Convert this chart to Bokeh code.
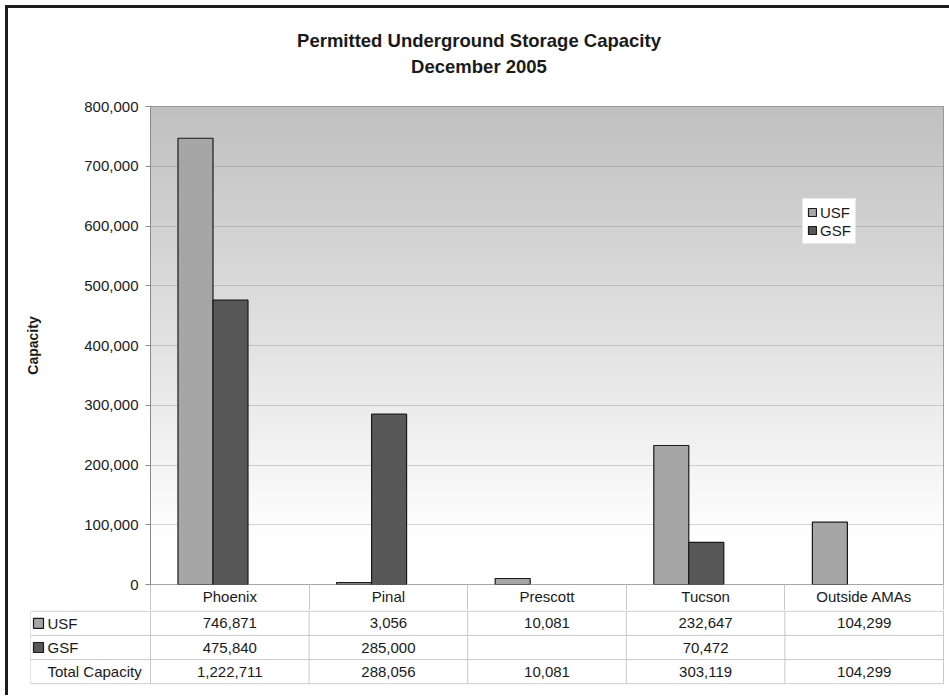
import numpy as np
from bokeh.plotting import figure
from bokeh.models import (Range1d, ColumnDataSource, NumeralTickFormatter, FixedTicker,
                          Legend, LegendItem, LinearAxis)
from bokeh.layouts import column
from bokeh.embed import file_html
from bokeh.resources import INLINE
from bokeh.core.properties import value

# ---------------- data ----------------
title_lines = ["Permitted Underground Storage Capacity", "December 2005"]
regions = ["Phoenix", "Pinal", "Prescott", "Tucson", "Outside AMAs"]
usf = [746871, 3056, 10081, 232647, 104299]
gsf = [475840, 285000, None, 70472, None]
series_names = ["USF", "GSF"]
total_label = "Total Capacity"
y_label = "Capacity"
y_ticks = [0, 100000, 200000, 300000, 400000, 500000, 600000, 700000, 800000]

# ---------------- style ----------------
FONT = "Liberation Sans"
TXT = "#1a1a1a"
USF_COLOR = "#a6a6a6"
GSF_COLOR = "#585858"
EDGE = "#1a1a1a"
TABLE_LINE = "#c8c8c8"

OFF = 8                    # css margin+border offset
W = 949 - OFF
PXU = 158.6                # pixels per category
YMAX = y_ticks[-1]
BW = 35 / PXU              # bar width in category units
X0 = -0.394                # chart range start (bars sit slightly left of table columns)
NCAT = len(regions)

idx = np.arange(NCAT)
usf_a = np.array(usf, dtype=float)
gsf_a = np.array([np.nan if v is None else v for v in gsf], dtype=float)
total_a = np.nansum(np.vstack([usf_a, gsf_a]), axis=0)


def bare(fig):
    fig.grid.visible = False
    fig.outline_line_color = None
    fig.background_fill_color = "white"
    fig.border_fill_color = "white"


def no_align(fig):
    if "frame_align" in fig.properties():
        fig.frame_align = False


# ---------------- title strip ----------------
p0 = figure(width=W, height=90, x_range=Range1d(0, 1), y_range=Range1d(0, 1),
            output_backend="svg", toolbar_location=None, tools="",
            x_axis_location=None, y_axis_location=None,
            min_border_left=0, min_border_right=0, min_border_top=0, min_border_bottom=0)
bare(p0)
no_align(p0)
p0.text(x=[0.5, 0.5], y=[0.645, 0.356], text=title_lines, text_align="center",
        text_baseline="alphabetic", text_font=value(FONT), text_font_style="bold",
        text_font_size="18.5px", text_color=TXT)

# ---------------- chart ----------------
p1 = figure(width=W, height=512, x_range=Range1d(X0, X0 + NCAT),
            y_range=Range1d(0, YMAX), output_backend="svg", toolbar_location=None,
            tools="", x_axis_location=None,
            min_border_left=142, min_border_right=6, min_border_top=8, min_border_bottom=26)
no_align(p1)
p1.background_fill_color = "white"
p1.border_fill_color = "white"
p1.outline_line_color = "#8a8a8a"
p1.outline_line_width = 1

# gradient backdrop of the plot area
n = 256
fr = (np.arange(n) + 0.5) / n
g = (255 - 63 * np.clip((fr - 0.1) / 0.9, 0, 1)).astype(np.uint8)
img = np.zeros((n, 1), dtype=np.uint32)
view = img.view(dtype=np.uint8).reshape((n, 1, 4))
view[:, 0, 0] = g
view[:, 0, 1] = g
view[:, 0, 2] = g
view[:, 0, 3] = 255
p1.image_rgba(image=[img], x=X0, y=0, dw=NCAT, dh=YMAX, level="image")

p1.xgrid.visible = False
p1.ygrid.grid_line_color = "#808080"
p1.ygrid.grid_line_alpha = 0.35
p1.ygrid.ticker = FixedTicker(ticks=y_ticks)

src = ColumnDataSource(dict(xu=idx - BW / 2, xg=idx + BW / 2, usf=usf_a, gsf=gsf_a))
r1 = p1.vbar(x="xu", top="usf", bottom=0, width=BW, source=src,
             fill_color=USF_COLOR, line_color=EDGE, line_width=1.2)
r2 = p1.vbar(x="xg", top="gsf", bottom=0, width=BW, source=src,
             fill_color=GSF_COLOR, line_color=EDGE, line_width=1.2)

ax = p1.yaxis[0]
ax.ticker = FixedTicker(ticks=y_ticks)
ax.formatter = NumeralTickFormatter(format="0,0")
ax.axis_line_color = "#8a8a8a"
ax.major_tick_line_color = "#8a8a8a"
ax.major_tick_out = 5
ax.major_tick_in = 0
ax.minor_tick_line_color = None
ax.major_label_standoff = 7
ax.major_label_text_font = FONT
ax.major_label_text_font_size = "15px"
ax.major_label_text_color = TXT
ax.axis_label = y_label
ax.axis_label_text_font = FONT
ax.axis_label_text_font_style = "bold"
ax.axis_label_text_font_size = "14px"
ax.axis_label_text_color = TXT
ax.axis_label_standoff = 40

# header row of the data table: category names on an axis aligned with the table columns
p1.extra_x_ranges = {"tbl": Range1d(-0.5, NCAT - 0.5)}
xa = LinearAxis(x_range_name="tbl",
                ticker=FixedTicker(ticks=[float(k) for k in idx],
                                   minor_ticks=[k - 0.5 for k in range(NCAT + 1)]))
xa.major_label_overrides = {float(k): name for k, name in zip(idx, regions)}
xa.axis_line_color = None
xa.major_tick_out = 0
xa.major_tick_in = 0
xa.minor_tick_out = 26
xa.minor_tick_in = 0
xa.minor_tick_line_color = TABLE_LINE
xa.major_label_standoff = -23
xa.major_label_text_font = FONT
xa.major_label_text_font_size = "15px"
xa.major_label_text_color = TXT
p1.add_layout(xa, "below")

legend = Legend(items=[LegendItem(label=series_names[0], renderers=[r1]),
                       LegendItem(label=series_names[1], renderers=[r2])],
                location=(652, 340))
legend.label_text_font = FONT
legend.label_text_font_size = "15px"
legend.label_text_color = TXT
legend.glyph_width = 10
legend.glyph_height = 10
legend.label_height = 18
legend.label_standoff = 3
legend.spacing = 0
legend.padding = 4
legend.margin = 0
legend.background_fill_color = "white"
legend.background_fill_alpha = 1
legend.border_line_color = "#d0d0d0"
p1.add_layout(legend)

# ---------------- data table rows ----------------
L = -0.5 - 120 / PXU
R = NCAT - 0.5 + 1 / PXU
p2 = figure(width=W, height=85, x_range=Range1d(L, R), y_range=Range1d(-0.03, 3.03),
            output_backend="svg", toolbar_location=None, tools="",
            x_axis_location=None, y_axis_location=None,
            min_border_left=22, min_border_right=5, min_border_top=0, min_border_bottom=11)
bare(p2)
no_align(p2)

nrow = 3
hy = list(range(nrow + 1))
p2.segment(x0=[L] * len(hy), y0=hy, x1=[NCAT - 0.5] * len(hy), y1=hy,
           line_color=TABLE_LINE, line_width=1)
vx = [k - 0.5 for k in range(NCAT + 1)] + [L]
p2.segment(x0=vx, y0=[0] * len(vx), x1=vx, y1=[nrow] * len(vx),
           line_color=TABLE_LINE, line_width=1)


def fmt(v):
    return "" if np.isnan(v) else f"{int(v):,}"


for arr, yrow in [(usf_a, 2.5), (gsf_a, 1.5), (total_a, 0.5)]:
    p2.text(x=idx, y=[yrow] * NCAT, text=[fmt(v) for v in arr], text_align="center",
            text_baseline="middle", text_font=value(FONT), text_font_size="15px", text_color=TXT)

p2.rect(x=[L + 8 / PXU] * 2, y=[2.5, 1.5], width=10, height=10, width_units="screen",
        height_units="screen", fill_color=[USF_COLOR, GSF_COLOR], line_color=EDGE, line_width=1.2)
p2.text(x=[L + 17 / PXU] * 3, y=[2.5, 1.5, 0.5], text=series_names + [total_label],
        text_align="left", text_baseline="middle", text_font=value(FONT),
        text_font_size="15px", text_color=TXT)

layout = column(p0, p1, p2, spacing=0,
                styles={"margin-left": "5px", "margin-top": "5px",
                        "border-left": "3px solid #1c1c1c", "border-top": "3px solid #1c1c1c"})

open("out.html", "w").write(file_html(layout, INLINE))
